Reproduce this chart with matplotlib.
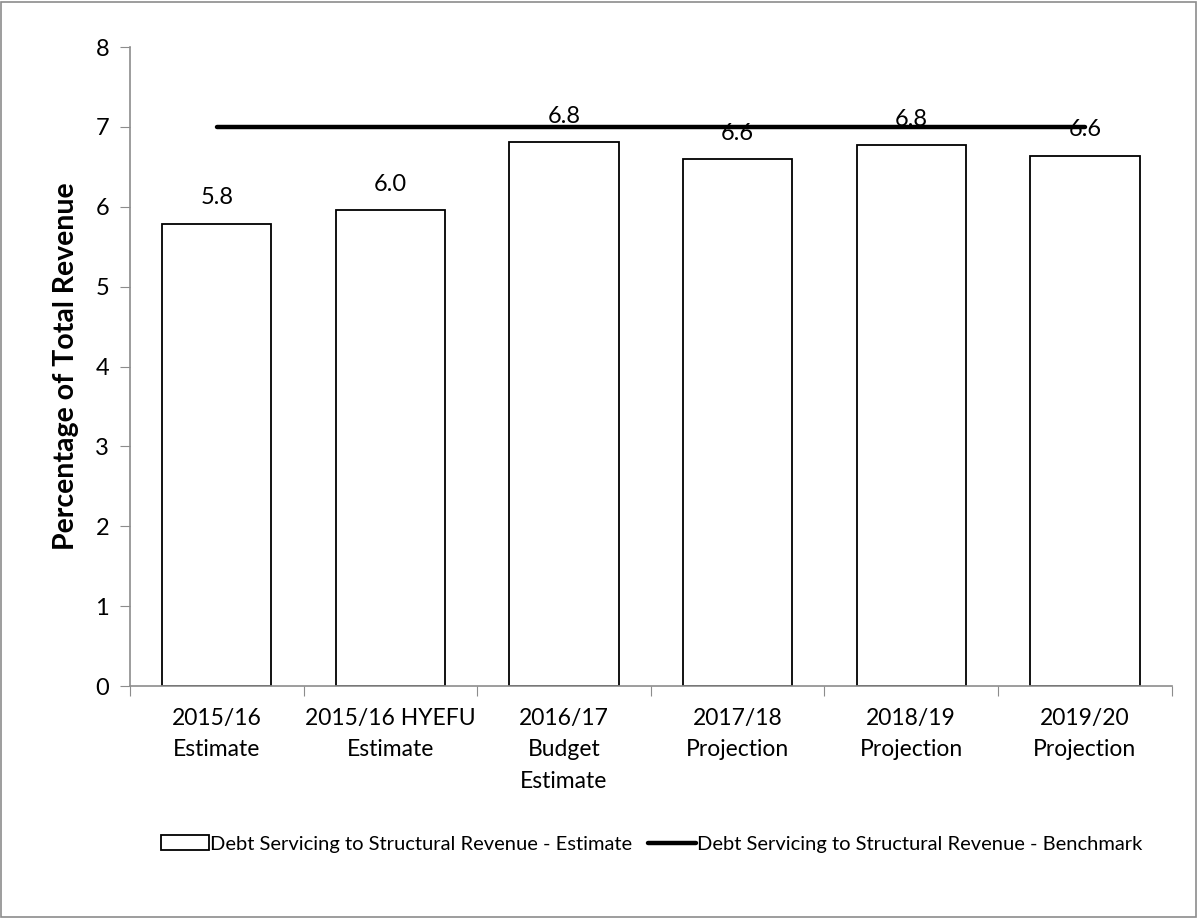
import matplotlib
matplotlib.use("Agg")
import matplotlib.pyplot as plt
import numpy as np
from matplotlib.patches import Rectangle

categories = ["2015/16\nEstimate", "2015/16 HYEFU\nEstimate", "2016/17\nBudget\nEstimate",
              "2017/18\nProjection", "2018/19\nProjection", "2019/20\nProjection"]
estimate = [5.79, 5.96, 6.81, 6.60, 6.77, 6.64]
benchmark = [7, 7, 7, 7, 7, 7]
estimate_label = "Debt Servicing to Structural Revenue - Estimate"
benchmark_label = "Debt Servicing to Structural Revenue - Benchmark"

plt.rcParams["font.family"] = ["Lato", "DejaVu Sans"]

fig = plt.figure(figsize=(11.98, 9.18), dpi=100)
fig.patches.append(Rectangle((0.001, 0.001), 0.997, 0.997, transform=fig.transFigure,
                             fill=False, edgecolor="#8c8c8c", linewidth=1.2))
ax = fig.add_axes([0.1085, 0.2527, 0.8695, 0.6961])

x = np.arange(len(categories))
bars = ax.bar(x, estimate, width=0.63, color="white", edgecolor="black", linewidth=1.3,
              label=estimate_label, zorder=2)
line, = ax.plot(x, benchmark, color="black", linewidth=3.2, solid_capstyle="round",
                label=benchmark_label, zorder=3)

for xi, v in zip(x, estimate):
    ax.annotate(f"{v:.1f}", (xi, v), xytext=(0, 11), textcoords="offset points",
                ha="center", va="bottom", fontsize=17, zorder=4)

ax.set_xlim(-0.5, len(categories) - 0.5)
ax.set_ylim(0, 8)
ax.set_yticks(range(0, 9))
ax.tick_params(axis="y", labelsize=17, length=7, color="#8c8c8c", pad=8)

ax.set_xticks(np.arange(-0.5, len(categories), 1.0))
ax.set_xticklabels([])
ax.tick_params(axis="x", which="major", length=7, color="#8c8c8c")
ax.set_xticks(x, minor=True)
ax.set_xticklabels(categories, minor=True, fontsize=16.5, linespacing=1.6)
ax.tick_params(axis="x", which="minor", length=0, pad=16)

for side in ("top", "right"):
    ax.spines[side].set_visible(False)
for side in ("left", "bottom"):
    ax.spines[side].set_color("#8c8c8c")
    ax.spines[side].set_linewidth(1.2)

ax.set_ylabel("Percentage of Total Revenue", fontsize=20.5, fontweight="bold", labelpad=12)

fig.legend(handles=[bars, line], loc="center", bbox_to_anchor=(0.544, 0.0806), ncol=2,
           frameon=False, fontsize=14.5, handlelength=2.4, handletextpad=0.05,
           columnspacing=0.8)

fig.savefig("out.png", dpi=100)
